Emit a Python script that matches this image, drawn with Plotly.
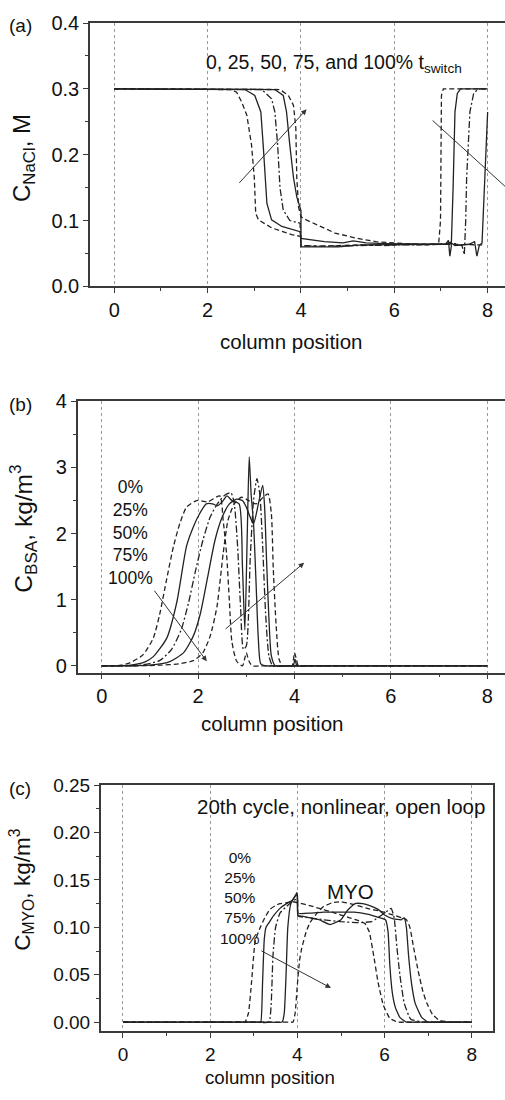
import plotly.graph_objects as go

W, H = 505, 1100

# ---------------- data: panel (a) NaCl ----------------
A_X0 = [0, 2.3, 2.48, 2.62, 2.73, 2.84, 2.94, 3.0, 3.03, 3.09, 3.37, 3.8, 3.99, 4.0, 4.3, 4.8, 5.3, 5.8, 6.3, 6.7, 6.95, 6.99, 7.01, 7.05, 8.0]
A_Y0 = [0.3, 0.3, 0.299, 0.295, 0.28, 0.26, 0.215, 0.165, 0.111, 0.101, 0.089, 0.0785, 0.076, 0.062, 0.061, 0.062, 0.063, 0.062, 0.064, 0.063, 0.064, 0.1, 0.29, 0.3, 0.3]
A_X25 = [0, 2.5, 2.8, 3.01, 3.14, 3.19, 3.23, 3.27, 3.37, 3.59, 3.98, 4.0, 4.5, 4.9, 5.12, 5.4, 5.8, 6.3, 6.8, 7.1, 7.16, 7.19, 7.22, 7.26, 7.3, 7.35, 7.42, 8.0]
A_Y25 = [0.3, 0.3, 0.299, 0.29, 0.265, 0.215, 0.165, 0.126, 0.101, 0.091, 0.083, 0.073, 0.068, 0.066, 0.069, 0.066, 0.065, 0.064, 0.064, 0.064, 0.07, 0.046, 0.06, 0.15, 0.265, 0.293, 0.3, 0.3]
A_X50 = [0, 2.8, 3.16, 3.37, 3.44, 3.5, 3.55, 3.62, 3.76, 3.98, 4.0, 4.5, 5.0, 5.5, 6.0, 6.5, 7.0, 7.3, 7.45, 7.5, 7.53, 7.55, 7.62, 7.7, 7.8, 8.0]
A_Y50 = [0.3, 0.3, 0.299, 0.285, 0.265, 0.215, 0.15, 0.116, 0.1, 0.096, 0.062, 0.061, 0.062, 0.063, 0.063, 0.063, 0.064, 0.065, 0.062, 0.048, 0.1, 0.165, 0.265, 0.293, 0.3, 0.3]
A_X75 = [0, 3.0, 3.44, 3.62, 3.69, 3.76, 3.84, 3.91, 3.98, 4.0, 4.0, 4.8, 5.3, 6.0, 6.6, 7.1, 7.2, 7.3, 7.6, 7.72, 7.77, 7.82, 7.88, 7.94, 7.98, 8.0]
A_Y75 = [0.3, 0.3, 0.299, 0.29, 0.265, 0.215, 0.165, 0.136, 0.121, 0.115, 0.06, 0.06, 0.063, 0.063, 0.064, 0.064, 0.067, 0.062, 0.064, 0.068, 0.046, 0.062, 0.066, 0.165, 0.24, 0.265]
A_X100 = [0, 3.3, 3.55, 3.73, 3.84, 3.89, 3.91, 3.95, 4.0, 4.05, 4.3, 4.73, 5.2, 5.6, 5.98, 6.5, 7.0, 7.5, 7.95]
A_Y100 = [0.3, 0.3, 0.299, 0.29, 0.275, 0.24, 0.165, 0.12, 0.106, 0.103, 0.095, 0.081, 0.073, 0.068, 0.066, 0.064, 0.064, 0.063, 0.063]

# ---------------- data: panel (b) BSA ----------------
B_X0 = [0, 0.2, 0.4, 0.6, 0.86, 1.07, 1.2, 1.35, 1.49, 1.62, 1.76, 1.97, 2.2, 2.45, 2.52, 2.59, 2.65, 2.7, 2.8, 2.92, 2.97, 3.0, 3.05, 3.12, 3.3, 5.0, 8.0]
B_Y0 = [0, 0, 0.01, 0.05, 0.17, 0.42, 0.77, 1.32, 1.81, 2.15, 2.4, 2.5, 2.48, 2.57, 2.2, 1.7, 0.96, 0.37, 0.07, 0, 0.12, 0.2, 0.08, 0, 0, 0, 0]
B_X25 = [0, 0.3, 0.6, 0.9, 1.07, 1.35, 1.56, 1.76, 1.9, 2.03, 2.17, 2.3, 2.4, 2.5, 2.6, 2.7, 2.85, 2.92, 2.97, 3.02, 3.06, 3.1, 3.15, 3.2, 3.25, 3.3, 3.4, 3.6, 5.0, 8.0]
B_Y25 = [0, 0, 0.01, 0.06, 0.14, 0.42, 0.97, 1.81, 2.1, 2.3, 2.45, 2.45, 2.42, 2.48, 2.57, 2.5, 2.45, 1.5, 0.54, 2.0, 3.16, 2.6, 2.15, 1.3, 0.4, 0.03, 0, 0, 0, 0]
B_X50 = [0, 0.4, 0.8, 1.2, 1.45, 1.65, 1.8, 1.95, 2.1, 2.25, 2.4, 2.55, 2.68, 2.75, 2.82, 2.88, 2.94, 3.0, 3.08, 3.15, 3.22, 3.28, 3.34, 3.4, 3.47, 3.55, 3.75, 5.0, 8.0]
B_Y50 = [0, 0, 0.01, 0.08, 0.25, 0.55, 0.95, 1.45, 1.9, 2.25, 2.45, 2.58, 2.62, 2.45, 1.8, 0.9, 0.25, 0.3, 1.6, 2.5, 2.83, 2.6, 1.8, 0.8, 0.15, 0, 0, 0, 0]
B_X75 = [0, 0.5, 1.0, 1.4, 1.7, 1.9, 2.05, 2.2, 2.35, 2.5, 2.65, 2.8, 2.92, 3.0, 3.08, 3.15, 3.25, 3.34, 3.38, 3.42, 3.47, 3.52, 3.6, 3.8, 3.97, 4.01, 4.05, 4.25, 5.5, 8.0]
B_Y75 = [0, 0, 0.01, 0.06, 0.2, 0.45, 0.8, 1.35, 1.9, 2.25, 2.45, 2.52, 2.5, 2.4, 2.25, 2.15, 2.45, 2.73, 2.4, 1.6, 0.7, 0.15, 0, 0, 0, 0.1, 0, 0, 0, 0]
B_X100 = [0, 0.6, 1.2, 1.6, 1.9, 2.1, 2.25, 2.39, 2.52, 2.62, 2.75, 2.9, 3.05, 3.2, 3.35, 3.45, 3.52, 3.56, 3.62, 3.68, 3.75, 3.85, 3.95, 4.0, 4.04, 4.08, 4.3, 5.5, 8.0]
B_Y100 = [0, 0, 0.01, 0.03, 0.08, 0.2, 0.45, 0.89, 1.7, 2.2, 2.45, 2.55, 2.5, 2.45, 2.55, 2.6, 2.3, 1.46, 0.6, 0.1, 0, 0, 0, 0.2, 0.1, 0, 0, 0, 0]

# ---------------- data: panel (c) MYO ----------------
C_X0 = [0, 1.5, 2.6, 2.8, 2.88, 2.95, 3.03, 3.13, 3.25, 3.37, 3.5, 3.6, 3.75, 3.9, 4.0, 4.2, 4.5, 4.8, 5.0, 5.2, 5.4, 5.55, 5.65, 5.75, 5.85, 5.97, 6.12, 6.3, 6.6, 7.5, 8.0]
C_Y0 = [0, 0, 0, 0, 0.01, 0.043, 0.085, 0.098, 0.11, 0.119, 0.123, 0.125, 0.126, 0.127, 0.126, 0.124, 0.12, 0.116, 0.113, 0.11, 0.107, 0.104, 0.095, 0.07, 0.042, 0.018, 0.004, 0, 0, 0, 0]
C_X25 = [0, 1.5, 2.8, 3.1, 3.16, 3.2, 3.24, 3.28, 3.35, 3.45, 3.6, 3.75, 3.87, 3.95, 4.0, 4.02, 4.3, 4.6, 5.0, 5.3, 5.6, 5.9, 6.02, 6.08, 6.12, 6.18, 6.25, 6.35, 6.5, 6.8, 7.5, 8.0]
C_Y25 = [0, 0, 0, 0, 0.0, 0.04, 0.087, 0.1, 0.105, 0.112, 0.12, 0.125, 0.128, 0.133, 0.135, 0.115, 0.115, 0.116, 0.116, 0.116, 0.114, 0.11, 0.108, 0.095, 0.06, 0.03, 0.015, 0.005, 0, 0, 0, 0]
C_X50 = [0, 1.5, 3.0, 3.35, 3.4, 3.44, 3.5, 3.6, 3.75, 3.9, 4.0, 4.02, 4.3, 4.6, 5.0, 5.4, 5.7, 6.0, 6.15, 6.22, 6.28, 6.35, 6.45, 6.6, 6.9, 7.6, 8.0]
C_Y50 = [0, 0, 0, 0, 0.02, 0.07, 0.1, 0.115, 0.122, 0.128, 0.13, 0.112, 0.11, 0.108, 0.106, 0.105, 0.106, 0.115, 0.12, 0.11, 0.08, 0.05, 0.02, 0.003, 0, 0, 0]
C_X75 = [0, 1.5, 3.3, 3.65, 3.7, 3.74, 3.78, 3.85, 3.95, 3.99, 4.01, 4.05, 4.3, 4.5, 4.75, 5.0, 5.15, 5.32, 5.5, 5.66, 5.85, 6.0, 6.2, 6.38, 6.45, 6.5, 6.55, 6.62, 6.7, 6.85, 7.0, 7.3, 7.7, 8.0]
C_Y75 = [0, 0, 0, 0, 0.01, 0.05, 0.1, 0.125, 0.133, 0.137, 0.112, 0.112, 0.11, 0.108, 0.103, 0.108, 0.118, 0.125, 0.125, 0.123, 0.119, 0.113, 0.109, 0.108, 0.11, 0.1, 0.07, 0.04, 0.02, 0.005, 0, 0, 0, 0]
C_X100 = [0, 1.5, 3.5, 3.8, 3.9, 3.95, 4.0, 4.05, 4.1, 4.2, 4.29, 4.45, 4.6, 4.8, 5.0, 5.3, 5.6, 5.9, 6.2, 6.4, 6.5, 6.58, 6.66, 6.77, 6.88, 6.97, 7.1, 7.25, 7.5, 7.8, 8.0]
C_Y100 = [0, 0, 0, 0, 0.0, 0.01, 0.04, 0.065, 0.078, 0.095, 0.105, 0.115, 0.122, 0.126, 0.127, 0.124, 0.12, 0.117, 0.113, 0.11, 0.108, 0.1, 0.08, 0.054, 0.032, 0.02, 0.008, 0.002, 0, 0, 0]

SERIES_NAMES = ["0%", "25%", "50%", "75%", "100%"]
X_TICKS = [0, 2, 4, 6, 8]

INK = "#222222"
AX = "#3a3a3a"
DASH = "5px,3px"
DASHDOT = "7px,2.5px,2px,2.5px"
STYLES = [DASH, "solid", DASHDOT, "solid", DASH]
FONT = "Liberation Sans, Arial, Helvetica, sans-serif"

fig = go.Figure()

panels = [
    ("", "linear", 0, [(A_X0, A_Y0), (A_X25, A_Y25), (A_X50, A_Y50), (A_X75, A_Y75), (A_X100, A_Y100)]),
    ("2", "spline", 0.6, [(B_X0, B_Y0), (B_X25, B_Y25), (B_X50, B_Y50), (B_X75, B_Y75), (B_X100, B_Y100)]),
    ("3", "spline", 0.4, [(C_X0, C_Y0), (C_X25, C_Y25), (C_X50, C_Y50), (C_X75, C_Y75), (C_X100, C_Y100)]),
]
for suf, shape, smooth, curves in panels:
    for name, (xs, ys), dash in zip(SERIES_NAMES, curves, STYLES):
        line = dict(color=INK, width=1.3, dash=dash, shape=shape)
        if shape == "spline":
            line["smoothing"] = smooth
        fig.add_trace(go.Scatter(
            x=xs, y=ys, mode="lines", name=name, line=line,
            xaxis="x" + suf, yaxis="y" + suf, showlegend=False,
        ))


def px_x(p):
    return p / W


def px_y(p):
    return 1 - p / H


def xaxis(dom, rng, anchor, fs, mirror):
    return dict(
        domain=dom, range=rng, anchor=anchor,
        tickmode="array", tickvals=X_TICKS,
        showline=True, linecolor=AX, linewidth=1.5, mirror=mirror,
        ticks="outside", ticklen=5, tickwidth=1.2, tickcolor=AX,
        tickfont=dict(family=FONT, size=fs, color="#111"),
        showgrid=True, gridcolor="#9a9a9a", griddash="dot", gridwidth=1,
        zeroline=False,
        minor=dict(dtick=1, tick0=0, ticks="outside", ticklen=3, tickwidth=1.1,
                   tickcolor=AX, showgrid=False),
    )


def yaxis(dom, rng, anchor, dtick, mdtick, fmt, fs, mirror):
    return dict(
        domain=dom, range=rng, anchor=anchor,
        dtick=dtick, tick0=0, tickformat=fmt,
        showline=True, linecolor=AX, linewidth=1.5, mirror=mirror,
        ticks="outside", ticklen=5, tickwidth=1.2, tickcolor=AX,
        tickfont=dict(family=FONT, size=fs, color="#111"),
        showgrid=False, zeroline=False,
        minor=dict(dtick=mdtick, tick0=0, ticks="outside", ticklen=3, tickwidth=1.1,
                   tickcolor=AX, showgrid=False),
    )


fig.update_layout(
    width=W, height=H, margin=dict(l=0, r=0, t=0, b=0),
    paper_bgcolor="white", plot_bgcolor="white", showlegend=False,
    xaxis=xaxis([px_x(90), 1.0], [-0.521, 8.372], "y", 20, True),
    yaxis=yaxis([px_y(281), px_y(12.3)], [0, 0.4], "x", 0.1, 0.05, ".1f", 20, False),
    xaxis2=xaxis([px_x(77.7), 1.0], [-0.498, 8.367], "y2", 20, True),
    yaxis2=yaxis([px_y(675), px_y(398.3)], [-0.1, 4.0], "x2", 1, 0.5, "d", 20, False),
    xaxis3=xaxis([px_x(100.7), px_x(493.3)], [-0.511, 8.493], "y3", 19, True),
    yaxis3=yaxis([px_y(1041), px_y(790)], [-0.0096, 0.25], "x3", 0.05, 0.025, ".2f", 19, True),
)

ann = []


def txt(text, x, y, size, xref="paper", yref="paper", angle=0):
    ann.append(dict(text=text, x=x, y=y, xref=xref, yref=yref, showarrow=False,
                    xanchor="center", yanchor="middle", textangle=angle,
                    font=dict(family=FONT, size=size, color="#111")))


def arrow(x0, y0, x1, y1, xr, yr):
    ann.append(dict(text="", x=x1, y=y1, ax=x0, ay=y0, xref=xr, yref=yr,
                    axref=xr, ayref=yr, showarrow=True, arrowhead=2,
                    arrowsize=1.1, arrowwidth=1.0, arrowcolor="#333"))


# panel labels
txt("(a)", px_x(20), px_y(15), 19)
txt("(b)", px_x(20), px_y(401.7), 19)
txt("(c)", px_x(20), px_y(793), 19)

# axis titles
txt("C<sub>NaCl</sub>, M", px_x(23), px_y(150), 24, angle=-90)
txt("column position", px_x(290.8), px_y(337), 20.5)
txt("C<sub>BSA</sub>, kg/m<sup>3</sup>", px_x(23), px_y(528.3), 24.5, angle=-90)
txt("column position", px_x(272.3), px_y(726.7), 20.5)
txt("C<sub>MYO</sub>, kg/m<sup>3</sup>", px_x(22), px_y(896.7), 22.5, angle=-90)
txt("column position", px_x(269.7), px_y(1088), 18.7)

# panel (a) annotations
txt("0, 25, 50, 75, and 100% t<sub>switch</sub>", 4.70, 0.339, 19.5, "x", "y")
arrow(2.65, 0.155, 4.12, 0.269, "x", "y")

# panel (b) annotations
txt("<br>".join(SERIES_NAMES), 0.59, 2.01, 17.5, "x2", "y2")
arrow(1.07, 1.16, 2.18, 0.07, "x2", "y2")
arrow(2.54, 0.54, 4.2, 1.56, "x2", "y2")

# panel (c) annotations
txt("20th cycle, nonlinear, open loop", 4.99, 0.2277, 20.5, "x3", "y3")
txt("MYO", 5.22, 0.138, 20.5, "x3", "y3")
txt("<br>".join(SERIES_NAMES), 2.68, 0.131, 15.5, "x3", "y3")
arrow(3.14, 0.076, 4.77, 0.036, "x3", "y3")

fig.update_layout(annotations=ann)

# panel (a) second trend line (its head lies beyond the visible area)
fig.add_shape(type="line", xref="x", yref="y", x0=6.82, y0=0.252, x1=8.45, y1=0.147,
              line=dict(color="#333", width=1.0))

fig.write_html("out.html")
